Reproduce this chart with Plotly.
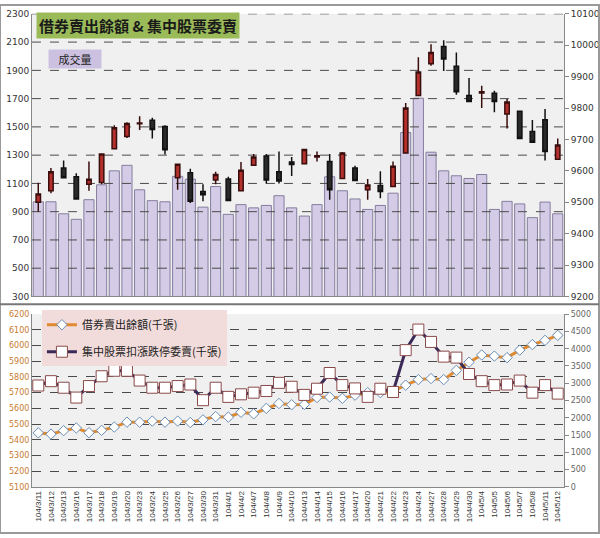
import plotly.graph_objects as go

dates = ["104/3/11", "104/3/12", "104/3/13", "104/3/16", "104/3/17", "104/3/18", "104/3/19",
         "104/3/20", "104/3/23", "104/3/24", "104/3/25", "104/3/26", "104/3/27", "104/3/30",
         "104/3/31", "104/4/1", "104/4/2", "104/4/7", "104/4/8", "104/4/9", "104/4/10",
         "104/4/13", "104/4/14", "104/4/15", "104/4/16", "104/4/17", "104/4/20", "104/4/21",
         "104/4/22", "104/4/23", "104/4/24", "104/4/27", "104/4/28", "104/4/29", "104/4/30",
         "104/5/4", "104/5/5", "104/5/6", "104/5/7", "104/5/8", "104/5/11", "104/5/12"]

volume = [970, 970, 885, 846, 985, 1090, 1189, 1228, 1055, 978, 970, 1150, 1130, 932,
          1078, 881, 950, 927, 944, 1013, 927, 869, 950, 1147, 1048, 990, 916, 944,
          1031, 1460, 1703, 1321, 1189, 1154, 1135, 1163, 916, 973, 955, 858, 968, 885]

k_open = [9500, 9537, 9609, 9581, 9557, 9563, 9670, 9709, 9750, 9761, 9741, 9578, 9594, 9534,
          9571, 9574, 9537, 9618, 9647, 9597, 9628, 9623, 9644, 9630, 9576, 9609, 9540, 9553,
          9550, 9657, 9840, 9941, 9996, 9933, 9840, 9848, 9847, 9781, 9790, 9725, 9763, 9637]
k_high = [9562, 9609, 9633, 9592, 9630, 9656, 9745, 9755, 9774, 9769, 9745, 9623, 9607, 9557,
          9597, 9581, 9628, 9654, 9654, 9662, 9644, 9668, 9662, 9654, 9660, 9616, 9574, 9599,
          9630, 9816, 9962, 10003, 10016, 9977, 9896, 9871, 9855, 9829, 9790, 9762, 9797, 9703]
k_low = [9470, 9529, 9576, 9508, 9537, 9557, 9670, 9705, 9730, 9703, 9652, 9540, 9498, 9503,
         9557, 9503, 9534, 9616, 9560, 9560, 9584, 9623, 9630, 9508, 9576, 9569, 9508, 9513,
         9548, 9657, 9838, 9935, 9918, 9842, 9821, 9800, 9787, 9735, 9703, 9691, 9633, 9637]
k_close = [9526, 9597, 9578, 9510, 9573, 9654, 9737, 9751, 9752, 9732, 9667, 9621, 9503, 9524,
           9588, 9506, 9602, 9644, 9571, 9568, 9620, 9668, 9648, 9540, 9657, 9569, 9555, 9534,
           9615, 9800, 9915, 9977, 9956, 9852, 9821, 9852, 9821, 9819, 9703, 9691, 9662, 9682]

short_balance = [5444, 5436, 5458, 5475, 5445, 5460, 5481, 5512, 5512, 5519, 5512, 5519, 5510,
                 5527, 5548, 5544, 5575, 5565, 5600, 5631, 5623, 5625, 5669, 5672, 5664, 5684,
                 5700, 5700, 5710, 5748, 5783, 5790, 5783, 5842, 5894, 5940, 5933, 5923, 5971,
                 6006, 6033, 6065]
sell_orders = [2935, 3060, 2870, 2585, 2918, 3202, 3361, 3361, 3077, 2870, 2870, 2918, 2963,
               2509, 2870, 2605, 2679, 2727, 2776, 3011, 2898, 2662, 2841, 3296, 2946, 2850,
               2605, 2841, 2747, 3958, 4554, 4196, 3770, 3742, 3267, 3060, 2946, 2963, 3077,
               2727, 2946, 2699]

vol_ticks = list(range(300, 2301, 200))
idx_ticks = list(range(9200, 10101, 100))
bal_ticks = list(range(5100, 6201, 100))
ord_ticks = list(range(0, 5001, 500))

W, H = 600, 538
xs = list(range(len(dates)))
x_dom = [32 / W, 565 / W]
top_dom = [1 - 297 / H, 1 - 9 / H]
bot_dom = [1 - 491 / H, 1 - 315 / H]

CJK = "Noto Sans CJK TC"
NUM = "DejaVu Sans"

fig = go.Figure()

# volume bars
fig.add_trace(go.Bar(x=xs, y=volume, xaxis="x", yaxis="y",
                     marker=dict(color="#d4cce6", line=dict(color="#857d9e", width=1)),
                     showlegend=False, hoverinfo="skip"))

# dashed grid drawn above bars (below candles)
gx, gy = [], []
for t in vol_ticks:
    gx += [-0.5, len(dates) - 0.5, None]
    gy += [t, t, None]
fig.add_trace(go.Scatter(x=gx, y=gy, mode="lines", xaxis="x", yaxis="y",
                         line=dict(color="#4a4a4a", width=1, dash="dash"),
                         showlegend=False, hoverinfo="skip"))

# candlesticks
fig.add_trace(go.Candlestick(x=xs, open=k_open, high=k_high, low=k_low, close=k_close,
                             xaxis="x", yaxis="y2",
                             increasing=dict(fillcolor="#b3302c", line=dict(color="#3a0d0d", width=1.5)),
                             decreasing=dict(fillcolor="#2a2a2a", line=dict(color="#111111", width=1.5)),
                             whiskerwidth=0, showlegend=False, hoverinfo="skip"))

# bottom lines
fig.add_trace(go.Scatter(x=xs, y=short_balance, xaxis="x2", yaxis="y3", mode="lines+markers",
                         name="借券賣出餘額(千張)", legendgroup="a",
                         line=dict(color="#e08a30", width=3),
                         marker=dict(symbol="diamond", size=8, color="white",
                                     line=dict(color="#6a8db5", width=1))))
fig.add_trace(go.Scatter(x=xs, y=sell_orders, xaxis="x2", yaxis="y4", mode="lines+markers",
                         name="集中股票扣漲跌停委賣(千張)", legendgroup="b",
                         line=dict(color="#3b2a58", width=3),
                         marker=dict(symbol="square", size=11, color="white",
                                     line=dict(color="#8a4a4a", width=1))))

fig.update_layout(
    width=W, height=H,
    margin=dict(l=0, r=0, t=0, b=0),
    paper_bgcolor="white",
    plot_bgcolor="#f0f0f0",
    bargap=0.2,
    boxgap=0.5,
    font=dict(family=NUM, size=9, color="#333"),
    xaxis=dict(domain=x_dom, anchor="y", range=[-0.5, len(dates) - 0.5],
               showticklabels=False, showgrid=False, zeroline=False,
               showline=True, linecolor="#888", linewidth=1, ticks="",
               rangeslider=dict(visible=False)),
    yaxis=dict(domain=top_dom, anchor="x", range=[300, 2300], tickvals=vol_ticks,
               tickformat="d", showgrid=False, zeroline=False, showline=True, linecolor="#888",
               tickfont=dict(family=NUM, size=9, color="#333")),
    yaxis2=dict(overlaying="y", anchor="x", side="right", range=[9200, 10100],
                tickvals=idx_ticks, tickformat="d", showgrid=False, zeroline=False, showline=True,
                linecolor="#888", ticks="outside", ticklen=4, tickcolor="#888",
                tickfont=dict(family=NUM, size=9, color="#333")),
    xaxis2=dict(domain=x_dom, anchor="y3", range=[-0.5, len(dates) - 0.5],
                tickvals=xs, ticktext=dates, tickangle=-90, showgrid=False,
                zeroline=False, showline=True, linecolor="#888", ticks="",
                tickfont=dict(family="Liberation Sans", size=8, color="#333")),
    yaxis3=dict(domain=bot_dom, anchor="x2", range=[5100, 6200], tickvals=bal_ticks,
                tickformat="d", showgrid=True, gridcolor="#4a4a4a", griddash="dash", gridwidth=1,
                zeroline=False, showline=True, linecolor="#888",
                tickfont=dict(family=NUM, size=8, color="#c87a30")),
    yaxis4=dict(overlaying="y3", anchor="x2", side="right", range=[0, 5000],
                tickvals=ord_ticks, tickformat="d", showgrid=False, zeroline=False, showline=True,
                linecolor="#888", ticks="outside", ticklen=4, tickcolor="#888",
                tickfont=dict(family=NUM, size=8, color="#666")),
    legend=dict(x=42 / W, y=1 - 311 / H, xanchor="left", yanchor="top",
                bgcolor="#f2dcdb", font=dict(family=CJK, size=11, color="#222"),
                tracegroupgap=8, itemwidth=30),
    annotations=[
        dict(text="借券賣出餘額 & 集中股票委賣", xref="paper", yref="paper",
             x=138 / W, y=1 - 21 / H, xanchor="center", yanchor="middle", showarrow=False,
             bgcolor="#9bbb59", borderpad=2,
             font=dict(family=CJK, size=15, color="#1a1a1a", weight="bold")),
        dict(text="成交量", xref="paper", yref="paper",
             x=75 / W, y=1 - 55 / H, xanchor="center", yanchor="middle", showarrow=False,
             bgcolor="#ccc1e0", width=50, height=16,
             font=dict(family=CJK, size=11, color="#222")),
    ],
    shapes=[
        dict(type="rect", xref="paper", yref="paper", x0=0, y0=0, x1=1, y1=1,
             line=dict(color="#9a9a9a", width=2)),
        dict(type="line", xref="paper", yref="paper", x0=0, x1=1,
             y0=1 - 305 / H, y1=1 - 305 / H, line=dict(color="#777", width=2)),
    ],
)

fig.write_html("out.html")
